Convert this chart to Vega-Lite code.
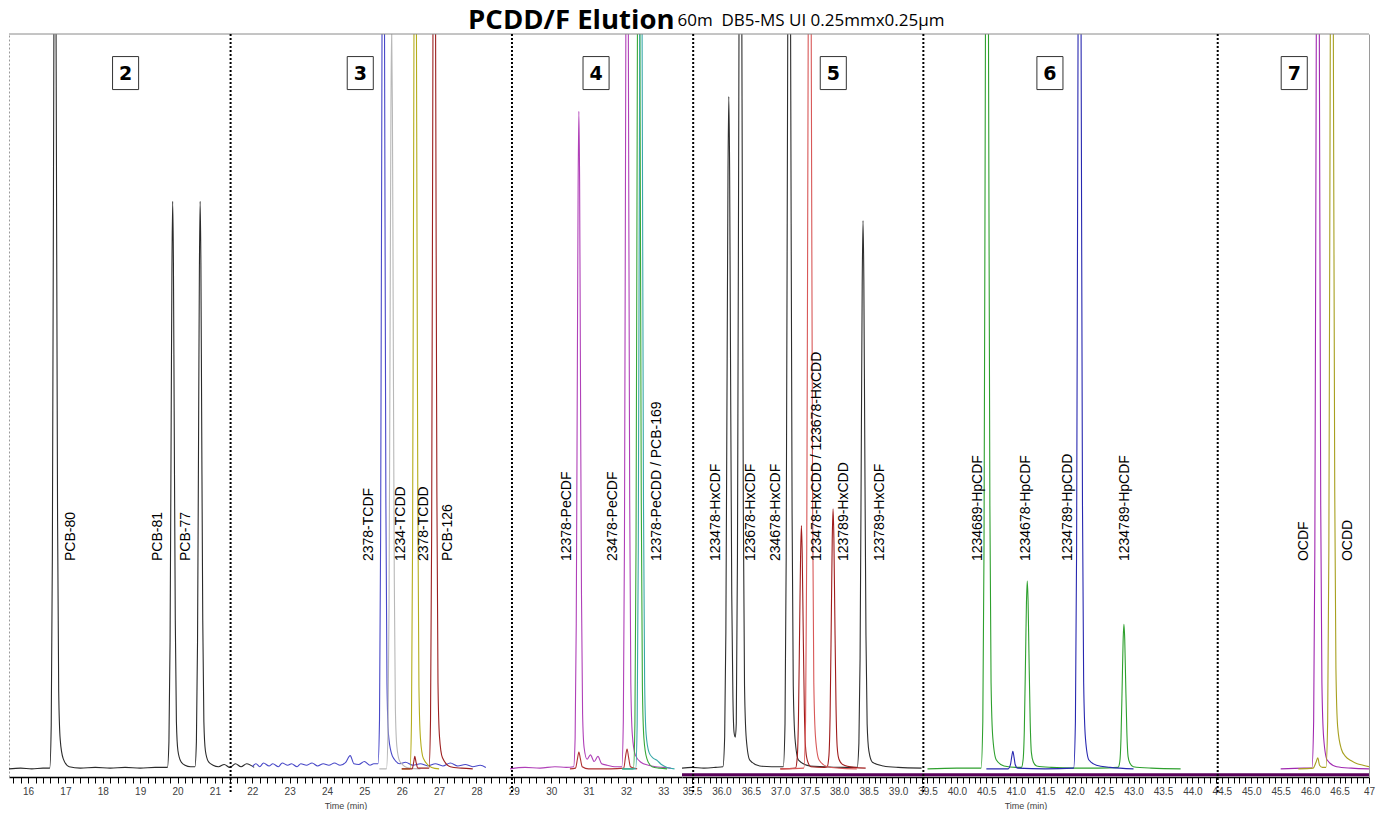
{
  "$schema": "https://vega.github.io/schema/vega-lite/v6.json",
  "padding": {"left": 8, "top": 7, "right": 14, "bottom": 0},
  "background": "white",
  "spacing": 0,
  "bounds": "flush",
  "config": {
    "view": {"stroke": null},
    "axis": {"domainColor": "#000", "domainWidth": 1.5, "tickColor": "#000", "tickSize": 6, "tickWidth": 1, "labelFont": "Liberation Sans", "labelFontSize": 10, "labelColor": "#404040", "labelPadding": 3, "titleFont": "Liberation Sans", "titleFontSize": 9, "titleFontWeight": "normal", "titleColor": "#404040", "titlePadding": 5, "grid": false}
  },
  "datasets": {
    "tr1": [
      {"s":"k1","t":15.49,"v":0.3},{"s":"k1","t":15.8,"v":0.4},{"s":"k1","t":16.1,"v":0.3},{"s":"k1","t":16.4,"v":0.4},{"s":"k1","t":16.58,"v":0.4},{"s":"k1","t":16.62,"v":6.2},{"s":"k1","t":16.65,"v":29},{"s":"k1","t":16.68,"v":79},{"s":"k1","t":16.70,"v":115},{"s":"k1","t":16.72,"v":130},{"s":"k1","t":16.74,"v":116},{"s":"k1","t":16.76,"v":82},{"s":"k1","t":16.79,"v":34},{"s":"k1","t":16.82,"v":10.8},{"s":"k1","t":16.86,"v":4.3},{"s":"k1","t":16.94,"v":1.7},{"s":"k1","t":17.1,"v":0.6},{"s":"k1","t":17.4,"v":0.4},{"s":"k1","t":17.8,"v":0.5},{"s":"k1","t":18.2,"v":0.4},{"s":"k1","t":18.6,"v":0.5},{"s":"k1","t":19.0,"v":0.4},{"s":"k1","t":19.4,"v":0.5},{"s":"k1","t":19.73,"v":0.5},{"s":"k1","t":19.77,"v":4},{"s":"k1","t":19.80,"v":17.4},{"s":"k1","t":19.83,"v":47.5},{"s":"k1","t":19.85,"v":68},{"s":"k1","t":19.87,"v":77.3},{"s":"k1","t":19.89,"v":69},{"s":"k1","t":19.91,"v":49},{"s":"k1","t":19.94,"v":20.5},{"s":"k1","t":19.97,"v":6.7},{"s":"k1","t":20.01,"v":2.8},{"s":"k1","t":20.09,"v":1.3},{"s":"k1","t":20.2,"v":0.8},{"s":"k1","t":20.35,"v":0.6},{"s":"k1","t":20.465,"v":0.6},{"s":"k1","t":20.505,"v":4},{"s":"k1","t":20.535,"v":17.4},{"s":"k1","t":20.565,"v":47.5},{"s":"k1","t":20.585,"v":68},{"s":"k1","t":20.605,"v":77.3},{"s":"k1","t":20.625,"v":69},{"s":"k1","t":20.645,"v":49},{"s":"k1","t":20.675,"v":20.5},{"s":"k1","t":20.705,"v":6.7},{"s":"k1","t":20.745,"v":2.8},{"s":"k1","t":20.825,"v":1.3},{"s":"k1","t":20.95,"v":0.8},{"s":"k1","t":21.1,"v":0.6},{"s":"k1","t":21.25,"v":0.9},{"s":"k1","t":21.4,"v":0.5},{"s":"k1","t":21.55,"v":1.0},{"s":"k1","t":21.7,"v":0.6},{"s":"k1","t":21.85,"v":1.0},{"s":"k1","t":22.05,"v":0.5},
      {"s":"b1","t":22.0,"v":0.6},{"s":"b1","t":22.1,"v":1.0},{"s":"b1","t":22.2,"v":0.6},{"s":"b1","t":22.3,"v":1.1},{"s":"b1","t":22.45,"v":0.7},{"s":"b1","t":22.55,"v":1.0},{"s":"b1","t":22.7,"v":0.6},{"s":"b1","t":22.8,"v":1.1},{"s":"b1","t":22.95,"v":0.8},{"s":"b1","t":23.05,"v":1.0},{"s":"b1","t":23.2,"v":0.6},{"s":"b1","t":23.3,"v":1.0},{"s":"b1","t":23.45,"v":0.8},{"s":"b1","t":23.6,"v":1.1},{"s":"b1","t":23.75,"v":0.7},{"s":"b1","t":23.9,"v":1.0},{"s":"b1","t":24.05,"v":0.8},{"s":"b1","t":24.2,"v":1.1},{"s":"b1","t":24.35,"v":0.8},{"s":"b1","t":24.5,"v":1.2},{"s":"b1","t":24.62,"v":2.1},{"s":"b1","t":24.72,"v":1.0},{"s":"b1","t":24.85,"v":0.9},{"s":"b1","t":25.0,"v":1.3},{"s":"b1","t":25.15,"v":0.8},{"s":"b1","t":25.25,"v":1.0},{"s":"b1","t":25.365,"v":1.0},{"s":"b1","t":25.405,"v":7},{"s":"b1","t":25.435,"v":32},{"s":"b1","t":25.465,"v":86},{"s":"b1","t":25.485,"v":124},{"s":"b1","t":25.505,"v":141},{"s":"b1","t":25.525,"v":126},{"s":"b1","t":25.545,"v":89},{"s":"b1","t":25.575,"v":37},{"s":"b1","t":25.605,"v":12},{"s":"b1","t":25.645,"v":5},{"s":"b1","t":25.725,"v":2.4},{"s":"b1","t":25.8,"v":1.6},{"s":"b1","t":25.95,"v":1.0},{"s":"b1","t":26.1,"v":1.2},{"s":"b1","t":26.3,"v":0.8},{"s":"b1","t":26.5,"v":1.0},{"s":"b1","t":26.7,"v":0.7},{"s":"b1","t":26.9,"v":1.0},{"s":"b1","t":27.1,"v":0.7},{"s":"b1","t":27.3,"v":1.1},{"s":"b1","t":27.5,"v":0.7},{"s":"b1","t":27.7,"v":0.9},{"s":"b1","t":27.9,"v":0.6},{"s":"b1","t":28.1,"v":0.8},{"s":"b1","t":28.25,"v":0.5},
      {"s":"g1","t":25.4,"v":0.3},{"s":"g1","t":25.59,"v":0.3},{"s":"g1","t":25.63,"v":4.8},{"s":"g1","t":25.66,"v":22.5},{"s":"g1","t":25.69,"v":62},{"s":"g1","t":25.71,"v":89},{"s":"g1","t":25.73,"v":101},{"s":"g1","t":25.75,"v":90},{"s":"g1","t":25.77,"v":64},{"s":"g1","t":25.80,"v":26.5},{"s":"g1","t":25.83,"v":8.4},{"s":"g1","t":25.87,"v":3.3},{"s":"g1","t":25.95,"v":1.3},{"s":"g1","t":26.2,"v":0.4},{"s":"g1","t":26.5,"v":0.3},
      {"s":"o1","t":26.0,"v":0.3},{"s":"o1","t":26.22,"v":0.3},{"s":"o1","t":26.26,"v":6.6},{"s":"o1","t":26.29,"v":31},{"s":"o1","t":26.32,"v":86},{"s":"o1","t":26.34,"v":123},{"s":"o1","t":26.36,"v":140},{"s":"o1","t":26.38,"v":125},{"s":"o1","t":26.40,"v":88},{"s":"o1","t":26.43,"v":37},{"s":"o1","t":26.46,"v":11.5},{"s":"o1","t":26.50,"v":4.5},{"s":"o1","t":26.58,"v":1.7},{"s":"o1","t":26.8,"v":0.5},{"s":"o1","t":27.0,"v":0.3},
      {"s":"r1","t":26.0,"v":0.3},{"s":"r1","t":26.28,"v":0.3},{"s":"r1","t":26.32,"v":1.2},{"s":"r1","t":26.35,"v":2.0},{"s":"r1","t":26.38,"v":1.3},{"s":"r1","t":26.43,"v":0.4},{"s":"r1","t":26.73,"v":0.4},{"s":"r1","t":26.77,"v":6.9},{"s":"r1","t":26.80,"v":32},{"s":"r1","t":26.83,"v":89},{"s":"r1","t":26.85,"v":128},{"s":"r1","t":26.87,"v":145},{"s":"r1","t":26.89,"v":130},{"s":"r1","t":26.91,"v":92},{"s":"r1","t":26.94,"v":38},{"s":"r1","t":26.97,"v":12},{"s":"r1","t":27.01,"v":4.7},{"s":"r1","t":27.09,"v":1.8},{"s":"r1","t":27.3,"v":0.6},{"s":"r1","t":27.6,"v":0.4},{"s":"r1","t":27.9,"v":0.3},
      {"s":"m1","t":28.9,"v":0.3},{"s":"m1","t":29.3,"v":0.5},{"s":"m1","t":29.7,"v":0.4},{"s":"m1","t":30.1,"v":0.6},{"s":"m1","t":30.4,"v":0.5},{"s":"m1","t":30.60,"v":0.6},{"s":"m1","t":30.64,"v":4.5},{"s":"m1","t":30.67,"v":20},{"s":"m1","t":30.70,"v":55},{"s":"m1","t":30.72,"v":79},{"s":"m1","t":30.74,"v":89.5},{"s":"m1","t":30.76,"v":80},{"s":"m1","t":30.78,"v":57},{"s":"m1","t":30.81,"v":24},{"s":"m1","t":30.84,"v":7.7},{"s":"m1","t":30.88,"v":3.2},{"s":"m1","t":30.96,"v":1.6},{"s":"m1","t":31.05,"v":2.2},{"s":"m1","t":31.15,"v":1.3},{"s":"m1","t":31.25,"v":2.0},{"s":"m1","t":31.35,"v":1.0},{"s":"m1","t":31.5,"v":0.8},{"s":"m1","t":31.7,"v":0.6},{"s":"m1","t":31.89,"v":0.6},{"s":"m1","t":31.93,"v":6.9},{"s":"m1","t":31.96,"v":31},{"s":"m1","t":31.99,"v":86},{"s":"m1","t":32.01,"v":124},{"s":"m1","t":32.03,"v":140},{"s":"m1","t":32.05,"v":125},{"s":"m1","t":32.07,"v":89},{"s":"m1","t":32.10,"v":37},{"s":"m1","t":32.13,"v":12},{"s":"m1","t":32.17,"v":5},{"s":"m1","t":32.25,"v":2.2},{"s":"m1","t":32.4,"v":1.2},{"s":"m1","t":32.6,"v":0.8},{"s":"m1","t":32.8,"v":0.6},{"s":"m1","t":33.0,"v":0.5},{"s":"m1","t":33.2,"v":0.4},
      {"s":"r1b","t":30.5,"v":0.3},{"s":"r1b","t":30.65,"v":0.4},{"s":"r1b","t":30.70,"v":1.6},{"s":"r1b","t":30.74,"v":2.6},{"s":"r1b","t":30.78,"v":1.7},{"s":"r1b","t":30.83,"v":0.6},{"s":"r1b","t":31.0,"v":0.3},{"s":"r1b","t":31.6,"v":0.3},{"s":"r1b","t":31.94,"v":0.4},{"s":"r1b","t":31.99,"v":2.0},{"s":"r1b","t":32.03,"v":3.0},{"s":"r1b","t":32.07,"v":1.9},{"s":"r1b","t":32.12,"v":0.6},{"s":"r1b","t":32.3,"v":0.3},
      {"s":"gr1","t":31.9,"v":0.3},{"s":"gr1","t":32.20,"v":0.3},{"s":"gr1","t":32.24,"v":6.6},{"s":"gr1","t":32.27,"v":31},{"s":"gr1","t":32.30,"v":86},{"s":"gr1","t":32.32,"v":123},{"s":"gr1","t":32.34,"v":140},{"s":"gr1","t":32.36,"v":125},{"s":"gr1","t":32.38,"v":88},{"s":"gr1","t":32.41,"v":37},{"s":"gr1","t":32.44,"v":11.5},{"s":"gr1","t":32.48,"v":4.5},{"s":"gr1","t":32.56,"v":1.7},{"s":"gr1","t":32.7,"v":0.6},{"s":"gr1","t":32.9,"v":0.4},{"s":"gr1","t":33.1,"v":0.3},
      {"s":"tl1","t":31.9,"v":0.3},{"s":"tl1","t":32.26,"v":0.3},{"s":"tl1","t":32.30,"v":6.4},{"s":"tl1","t":32.33,"v":30},{"s":"tl1","t":32.36,"v":83},{"s":"tl1","t":32.38,"v":119},{"s":"tl1","t":32.40,"v":135},{"s":"tl1","t":32.42,"v":121},{"s":"tl1","t":32.44,"v":86},{"s":"tl1","t":32.47,"v":36},{"s":"tl1","t":32.50,"v":12},{"s":"tl1","t":32.54,"v":5},{"s":"tl1","t":32.62,"v":2.5},{"s":"tl1","t":32.72,"v":1.8},{"s":"tl1","t":32.82,"v":1.5},{"s":"tl1","t":32.95,"v":0.9},{"s":"tl1","t":33.1,"v":0.5},{"s":"tl1","t":33.3,"v":0.3}
    ],
    "tr2": [
      {"s":"k2","t":35.33,"v":0.4},{"s":"k2","t":35.5,"v":0.5},{"s":"k2","t":35.7,"v":0.4},{"s":"k2","t":35.9,"v":0.5},{"s":"k2","t":36.025,"v":0.6},{"s":"k2","t":36.055,"v":4.7},{"s":"k2","t":36.075,"v":18.8},{"s":"k2","t":36.097,"v":56},{"s":"k2","t":36.111,"v":80.5},{"s":"k2","t":36.125,"v":91.5},{"s":"k2","t":36.139,"v":81.5},{"s":"k2","t":36.153,"v":58},{"s":"k2","t":36.175,"v":24},{"s":"k2","t":36.195,"v":10},{"s":"k2","t":36.215,"v":5.2},{"s":"k2","t":36.235,"v":4.6},{"s":"k2","t":36.252,"v":6.5},{"s":"k2","t":36.272,"v":29},{"s":"k2","t":36.294,"v":88},{"s":"k2","t":36.308,"v":128},{"s":"k2","t":36.322,"v":145},{"s":"k2","t":36.336,"v":129},{"s":"k2","t":36.35,"v":91},{"s":"k2","t":36.372,"v":35},{"s":"k2","t":36.392,"v":11.6},{"s":"k2","t":36.422,"v":4.4},{"s":"k2","t":36.482,"v":1.5},{"s":"k2","t":36.65,"v":0.7},{"s":"k2","t":36.85,"v":0.6},{"s":"k2","t":37.05,"v":0.6},{"s":"k2","t":37.08,"v":6.5},{"s":"k2","t":37.10,"v":29},{"s":"k2","t":37.122,"v":88},{"s":"k2","t":37.136,"v":128},{"s":"k2","t":37.15,"v":145},{"s":"k2","t":37.164,"v":129},{"s":"k2","t":37.178,"v":91},{"s":"k2","t":37.20,"v":35},{"s":"k2","t":37.22,"v":11.6},{"s":"k2","t":37.25,"v":4.4},{"s":"k2","t":37.31,"v":1.5},{"s":"k2","t":37.5,"v":0.7},{"s":"k2","t":37.75,"v":0.6},{"s":"k2","t":38.05,"v":0.5},{"s":"k2","t":38.305,"v":0.5},{"s":"k2","t":38.335,"v":3.8},{"s":"k2","t":38.355,"v":15.3},{"s":"k2","t":38.377,"v":45.7},{"s":"k2","t":38.391,"v":65.8},{"s":"k2","t":38.405,"v":74.7},{"s":"k2","t":38.419,"v":66.5},{"s":"k2","t":38.433,"v":47},{"s":"k2","t":38.455,"v":18.4},{"s":"k2","t":38.475,"v":6.4},{"s":"k2","t":38.505,"v":2.7},{"s":"k2","t":38.565,"v":1.2},{"s":"k2","t":38.75,"v":0.7},{"s":"k2","t":39.0,"v":0.5},{"s":"k2","t":39.4,"v":0.4},
      {"s":"r2","t":37.0,"v":0.3},{"s":"r2","t":37.258,"v":0.4},{"s":"r2","t":37.288,"v":1.9},{"s":"r2","t":37.308,"v":7},{"s":"r2","t":37.33,"v":20.5},{"s":"r2","t":37.344,"v":29},{"s":"r2","t":37.358,"v":33.3},{"s":"r2","t":37.372,"v":29.5},{"s":"r2","t":37.386,"v":21},{"s":"r2","t":37.408,"v":8.5},{"s":"r2","t":37.428,"v":3.3},{"s":"r2","t":37.458,"v":1.5},{"s":"r2","t":37.52,"v":0.6},{"s":"r2","t":37.75,"v":0.5},{"s":"r2","t":37.796,"v":0.6},{"s":"r2","t":37.826,"v":2.1},{"s":"r2","t":37.846,"v":7.6},{"s":"r2","t":37.868,"v":21.9},{"s":"r2","t":37.882,"v":31.3},{"s":"r2","t":37.896,"v":35.6},{"s":"r2","t":37.91,"v":31.6},{"s":"r2","t":37.924,"v":22.4},{"s":"r2","t":37.946,"v":8.9},{"s":"r2","t":37.966,"v":3.3},{"s":"r2","t":37.996,"v":1.6},{"s":"r2","t":38.06,"v":0.9},{"s":"r2","t":38.25,"v":0.5},{"s":"r2","t":38.45,"v":0.4},
      {"s":"lr2","t":37.0,"v":0.3},{"s":"lr2","t":37.399,"v":0.4},{"s":"lr2","t":37.429,"v":6.8},{"s":"lr2","t":37.449,"v":30},{"s":"lr2","t":37.471,"v":92},{"s":"lr2","t":37.485,"v":132},{"s":"lr2","t":37.499,"v":150},{"s":"lr2","t":37.513,"v":134},{"s":"lr2","t":37.527,"v":95},{"s":"lr2","t":37.549,"v":36},{"s":"lr2","t":37.569,"v":12},{"s":"lr2","t":37.599,"v":4.5},{"s":"lr2","t":37.659,"v":1.5},{"s":"lr2","t":37.8,"v":0.6},{"s":"lr2","t":38.0,"v":0.4},{"s":"lr2","t":38.3,"v":0.3},
      {"s":"gr2","t":39.5,"v":0.3},{"s":"gr2","t":40.0,"v":0.4},{"s":"gr2","t":40.41,"v":0.4},{"s":"gr2","t":40.44,"v":6.8},{"s":"gr2","t":40.46,"v":30},{"s":"gr2","t":40.482,"v":92},{"s":"gr2","t":40.496,"v":132},{"s":"gr2","t":40.51,"v":150},{"s":"gr2","t":40.524,"v":134},{"s":"gr2","t":40.538,"v":95},{"s":"gr2","t":40.56,"v":36},{"s":"gr2","t":40.58,"v":12},{"s":"gr2","t":40.61,"v":4.5},{"s":"gr2","t":40.67,"v":1.5},{"s":"gr2","t":40.8,"v":0.7},{"s":"gr2","t":41.0,"v":0.5},{"s":"gr2","t":41.095,"v":0.5},{"s":"gr2","t":41.125,"v":1.6},{"s":"gr2","t":41.145,"v":5.5},{"s":"gr2","t":41.167,"v":16},{"s":"gr2","t":41.181,"v":22.8},{"s":"gr2","t":41.195,"v":25.8},{"s":"gr2","t":41.209,"v":23},{"s":"gr2","t":41.223,"v":16.3},{"s":"gr2","t":41.245,"v":6.6},{"s":"gr2","t":41.265,"v":2.5},{"s":"gr2","t":41.295,"v":1.3},{"s":"gr2","t":41.355,"v":0.7},{"s":"gr2","t":41.6,"v":0.5},{"s":"gr2","t":42.0,"v":0.4},{"s":"gr2","t":42.4,"v":0.4},{"s":"gr2","t":42.737,"v":0.5},{"s":"gr2","t":42.767,"v":1.3},{"s":"gr2","t":42.787,"v":4.4},{"s":"gr2","t":42.809,"v":12.3},{"s":"gr2","t":42.823,"v":17.6},{"s":"gr2","t":42.837,"v":19.9},{"s":"gr2","t":42.851,"v":17.8},{"s":"gr2","t":42.865,"v":12.7},{"s":"gr2","t":42.887,"v":5.2},{"s":"gr2","t":42.907,"v":2},{"s":"gr2","t":42.937,"v":1.1},{"s":"gr2","t":42.997,"v":0.6},{"s":"gr2","t":43.3,"v":0.4},{"s":"gr2","t":43.8,"v":0.3},
      {"s":"b2","t":40.5,"v":0.3},{"s":"b2","t":40.87,"v":0.3},{"s":"b2","t":40.91,"v":0.9},{"s":"b2","t":40.93,"v":1.9},{"s":"b2","t":40.95,"v":2.7},{"s":"b2","t":40.97,"v":1.9},{"s":"b2","t":40.99,"v":0.9},{"s":"b2","t":41.03,"v":0.4},{"s":"b2","t":41.5,"v":0.3},{"s":"b2","t":41.983,"v":0.4},{"s":"b2","t":42.013,"v":6.8},{"s":"b2","t":42.033,"v":30},{"s":"b2","t":42.055,"v":92},{"s":"b2","t":42.069,"v":132},{"s":"b2","t":42.083,"v":150},{"s":"b2","t":42.097,"v":134},{"s":"b2","t":42.111,"v":95},{"s":"b2","t":42.133,"v":36},{"s":"b2","t":42.153,"v":12},{"s":"b2","t":42.183,"v":4.5},{"s":"b2","t":42.243,"v":1.5},{"s":"b2","t":42.37,"v":0.8},{"s":"b2","t":42.6,"v":0.5},{"s":"b2","t":43.0,"v":0.3},
      {"s":"m2","t":45.5,"v":0.3},{"s":"m2","t":45.9,"v":0.4},{"s":"m2","t":46.03,"v":0.4},{"s":"m2","t":46.06,"v":6.8},{"s":"m2","t":46.08,"v":30},{"s":"m2","t":46.102,"v":92},{"s":"m2","t":46.116,"v":132},{"s":"m2","t":46.13,"v":150},{"s":"m2","t":46.144,"v":134},{"s":"m2","t":46.158,"v":95},{"s":"m2","t":46.18,"v":36},{"s":"m2","t":46.2,"v":12},{"s":"m2","t":46.23,"v":4.5},{"s":"m2","t":46.29,"v":1.5},{"s":"m2","t":46.45,"v":0.6},{"s":"m2","t":46.7,"v":0.4},{"s":"m2","t":47.0,"v":0.3},
      {"s":"o2","t":45.8,"v":0.3},{"s":"o2","t":46.05,"v":0.4},{"s":"o2","t":46.1,"v":1.2},{"s":"o2","t":46.13,"v":1.8},{"s":"o2","t":46.16,"v":0.8},{"s":"o2","t":46.21,"v":0.5},{"s":"o2","t":46.268,"v":0.5},{"s":"o2","t":46.298,"v":6.8},{"s":"o2","t":46.318,"v":30},{"s":"o2","t":46.34,"v":92},{"s":"o2","t":46.354,"v":132},{"s":"o2","t":46.368,"v":150},{"s":"o2","t":46.382,"v":134},{"s":"o2","t":46.396,"v":95},{"s":"o2","t":46.418,"v":38},{"s":"o2","t":46.438,"v":14},{"s":"o2","t":46.468,"v":6},{"s":"o2","t":46.53,"v":3},{"s":"o2","t":46.6,"v":2},{"s":"o2","t":46.7,"v":1.4},{"s":"o2","t":46.8,"v":1.0},{"s":"o2","t":46.9,"v":0.8},{"s":"o2","t":47.0,"v":0.6}
    ],
    "lab1": [
      {"t":17.15,"text":"PCB-80"},{"t":19.48,"text":"PCB-81"},{"t":20.23,"text":"PCB-77"},{"t":25.13,"text":"2378-TCDF"},{"t":25.98,"text":"1234-TCDD"},{"t":26.60,"text":"2378-TCDD"},{"t":27.24,"text":"PCB-126"},{"t":30.42,"text":"12378-PeCDF"},{"t":31.66,"text":"23478-PeCDF"},{"t":32.83,"text":"12378-PeCDD / PCB-169"}
    ],
    "lab2": [
      {"t":35.915,"text":"123478-HxCDF"},{"t":36.51,"text":"123678-HxCDF"},{"t":36.934,"text":"234678-HxCDF"},{"t":37.63,"text":"123478-HxCDD / 123678-HxCDD"},{"t":38.08,"text":"123789-HxCDD"},{"t":38.70,"text":"123789-HxCDF"},{"t":40.35,"text":"1234689-HpCDF"},{"t":41.18,"text":"1234678-HpCDF"},{"t":41.89,"text":"1234789-HpCDD"},{"t":42.85,"text":"1234789-HpCDF"},{"t":45.90,"text":"OCDF"},{"t":46.65,"text":"OCDD"}
    ],
    "sep1": [{"t":21.42},{"t":28.95}],
    "sep2": [{"t":35.52},{"t":39.43},{"t":44.43}],
    "box1": [{"t":18.61,"n":"2"},{"t":24.89,"n":"3"},{"t":31.2,"n":"4"}],
    "box2": [{"t":37.9,"n":"5"},{"t":41.58,"n":"6"},{"t":45.73,"n":"7"}]
  },
  "hconcat": [
    {
      "width": 673,
      "height": 743,
      "title": {"text": "PCDD/F Elution", "anchor": "end", "font": "Open Sans", "fontSize": 27.5, "fontWeight": "bold", "color": "#000", "baseline": "alphabetic", "offset": -23.5, "dx": -8},
      "resolve": {"axis": {"x": "independent", "y": "independent"}},
      "layer": [
        {
          "data": {"name": "tr1"},
          "mark": {"type": "line", "interpolate": "monotone", "strokeWidth": 1.1, "clip": true},
          "encoding": {
            "x": {"field": "t", "type": "quantitative", "scale": {"domain": [15.49, 33.5], "nice": false, "zero": false}, "axis": {"title": "Time (min)", "values": [15.6,15.8,16,16.2,16.4,16.6,16.8,17,17.2,17.4,17.6,17.8,18,18.2,18.4,18.6,18.8,19,19.2,19.4,19.6,19.8,20,20.2,20.4,20.6,20.8,21,21.2,21.4,21.6,21.8,22,22.2,22.4,22.6,22.8,23,23.2,23.4,23.6,23.8,24,24.2,24.4,24.6,24.8,25,25.2,25.4,25.6,25.8,26,26.2,26.4,26.6,26.8,27,27.2,27.4,27.6,27.8,28,28.2,28.4,28.6,28.8,29,29.2,29.4,29.6,29.8,30,30.2,30.4,30.6,30.8,31,31.2,31.4,31.6,31.8,32,32.2,32.4,32.6,32.8,33,33.2,33.4], "labelExpr": "abs(datum.value - round(datum.value)) < 0.001 ? format(datum.value, 'd') : ''", "labelOverlap": false, "labelFlush": false}},
            "y": {"field": "v", "type": "quantitative", "scale": {"domain": [-0.8, 100], "nice": false, "zero": false}, "axis": {"orient": "left", "labels": false, "ticks": false, "title": null, "domainColor": "#9a9a9a", "domainWidth": 1, "domainDash": [2, 2]}},
            "color": {"field": "s", "type": "nominal", "legend": null, "scale": {"domain": ["k1","b1","g1","o1","r1","r1b","m1","gr1","tl1","k2","r2","lr2","gr2","b2","m2","o2"], "range": ["#2b2b2b","#4848c8","#b8b8b8","#b5ad1c","#9c2020","#b03030","#b040b8","#38a838","#38a8a8","#2e2e2e","#a01c1c","#d85858","#2ea02e","#2828b0","#a028b0","#a8a020"]}}
          }
        },
        {
          "data": {"values": [{}]},
          "mark": {"type": "rule", "color": "#8a8a8a", "strokeWidth": 1},
          "encoding": {"y": {"datum": 100, "type": "quantitative", "axis": null}}
        },
        {
          "data": {"name": "sep1"},
          "mark": {"type": "rule", "color": "#000", "strokeWidth": 2, "strokeDash": [2, 2]},
          "encoding": {
            "x": {"field": "t", "type": "quantitative", "axis": null},
            "y": {"datum": 100, "type": "quantitative", "axis": null},
            "y2": {"datum": -3}
          }
        },
        {
          "data": {"name": "lab1"},
          "mark": {"type": "text", "angle": 270, "align": "left", "baseline": "middle", "fontSize": 14, "font": "Liberation Sans", "color": "#000"},
          "encoding": {
            "x": {"field": "t", "type": "quantitative", "axis": null},
            "y": {"datum": 28.5, "type": "quantitative", "axis": null},
            "text": {"field": "text"}
          }
        },
        {
          "data": {"name": "box1"},
          "mark": {"type": "point", "shape": "M-0.79,-1L0.79,-1L0.79,1L-0.79,1Z", "size": 1089, "filled": true, "fill": "#fff", "fillOpacity": 1, "stroke": "#333", "strokeWidth": 1, "opacity": 1},
          "encoding": {
            "x": {"field": "t", "type": "quantitative", "axis": null},
            "y": {"datum": 94.7, "type": "quantitative", "axis": null}
          }
        },
        {
          "data": {"name": "box1"},
          "mark": {"type": "text", "align": "center", "baseline": "middle", "fontSize": 19, "fontWeight": "bold", "font": "DejaVu Sans", "color": "#000", "dy": 1},
          "encoding": {
            "x": {"field": "t", "type": "quantitative", "axis": null},
            "y": {"datum": 94.7, "type": "quantitative", "axis": null},
            "text": {"field": "n"}
          }
        }
      ]
    },
    {
      "width": 687,
      "height": 743,
      "title": {"text": "60m\u00a0 DB5-MS UI 0.25mmx0.25µm", "anchor": "start", "font": "Open Sans", "fontSize": 17, "fontWeight": "normal", "color": "#000", "baseline": "alphabetic", "offset": -10, "dx": -3},
      "resolve": {"axis": {"x": "independent", "y": "independent"}},
      "layer": [
        {
          "data": {"name": "tr2"},
          "mark": {"type": "line", "interpolate": "monotone", "strokeWidth": 1.1, "clip": true},
          "encoding": {
            "x": {"field": "t", "type": "quantitative", "scale": {"domain": [35.33, 47.0], "nice": false, "zero": false}, "axis": {"title": "Time (min)", "values": [35.4,35.5,35.6,35.7,35.8,35.9,36,36.1,36.2,36.3,36.4,36.5,36.6,36.7,36.8,36.9,37,37.1,37.2,37.3,37.4,37.5,37.6,37.7,37.8,37.9,38,38.1,38.2,38.3,38.4,38.5,38.6,38.7,38.8,38.9,39,39.1,39.2,39.3,39.4,39.5,39.6,39.7,39.8,39.9,40,40.1,40.2,40.3,40.4,40.5,40.6,40.7,40.8,40.9,41,41.1,41.2,41.3,41.4,41.5,41.6,41.7,41.8,41.9,42,42.1,42.2,42.3,42.4,42.5,42.6,42.7,42.8,42.9,43,43.1,43.2,43.3,43.4,43.5,43.6,43.7,43.8,43.9,44,44.1,44.2,44.3,44.4,44.5,44.6,44.7,44.8,44.9,45,45.1,45.2,45.3,45.4,45.5,45.6,45.7,45.8,45.9,46,46.1,46.2,46.3,46.4,46.5,46.6,46.7,46.8,46.9,47], "labelExpr": "abs(datum.value - 47) < 0.001 ? '47' : (abs(datum.value * 2 - round(datum.value * 2)) < 0.001 ? format(datum.value, '.1f') : '')", "labelOverlap": false, "labelFlush": false}},
            "y": {"field": "v", "type": "quantitative", "scale": {"domain": [-0.8, 100], "nice": false, "zero": false}, "axis": {"orient": "right", "labels": false, "ticks": false, "title": null, "domainColor": "#9a9a9a", "domainWidth": 1}},
            "color": {"field": "s", "type": "nominal", "legend": null, "scale": {"domain": ["k1","b1","g1","o1","r1","r1b","m1","gr1","tl1","k2","r2","lr2","gr2","b2","m2","o2"], "range": ["#2b2b2b","#4848c8","#b8b8b8","#b5ad1c","#9c2020","#b03030","#b040b8","#38a838","#38a8a8","#2e2e2e","#a01c1c","#d85858","#2ea02e","#2828b0","#a028b0","#a8a020"]}}
          }
        },
        {
          "data": {"values": [{}]},
          "mark": {"type": "rule", "color": "#8a8a8a", "strokeWidth": 1},
          "encoding": {"y": {"datum": 100, "type": "quantitative", "axis": null}}
        },
        {
          "data": {"values": [{}]},
          "mark": {"type": "rule", "color": "#5a005a", "strokeWidth": 3},
          "encoding": {"y": {"datum": -0.5, "type": "quantitative", "axis": null}}
        },
        {
          "data": {"name": "sep2"},
          "mark": {"type": "rule", "color": "#000", "strokeWidth": 2, "strokeDash": [2, 2]},
          "encoding": {
            "x": {"field": "t", "type": "quantitative", "axis": null},
            "y": {"datum": 100, "type": "quantitative", "axis": null},
            "y2": {"datum": -3}
          }
        },
        {
          "data": {"name": "lab2"},
          "mark": {"type": "text", "angle": 270, "align": "left", "baseline": "middle", "fontSize": 14, "font": "Liberation Sans", "color": "#000"},
          "encoding": {
            "x": {"field": "t", "type": "quantitative", "axis": null},
            "y": {"datum": 28.5, "type": "quantitative", "axis": null},
            "text": {"field": "text"}
          }
        },
        {
          "data": {"name": "box2"},
          "mark": {"type": "point", "shape": "M-0.79,-1L0.79,-1L0.79,1L-0.79,1Z", "size": 1089, "filled": true, "fill": "#fff", "fillOpacity": 1, "stroke": "#333", "strokeWidth": 1, "opacity": 1},
          "encoding": {
            "x": {"field": "t", "type": "quantitative", "axis": null},
            "y": {"datum": 94.7, "type": "quantitative", "axis": null}
          }
        },
        {
          "data": {"name": "box2"},
          "mark": {"type": "text", "align": "center", "baseline": "middle", "fontSize": 19, "fontWeight": "bold", "font": "DejaVu Sans", "color": "#000", "dy": 1},
          "encoding": {
            "x": {"field": "t", "type": "quantitative", "axis": null},
            "y": {"datum": 94.7, "type": "quantitative", "axis": null},
            "text": {"field": "n"}
          }
        }
      ]
    }
  ]
}
